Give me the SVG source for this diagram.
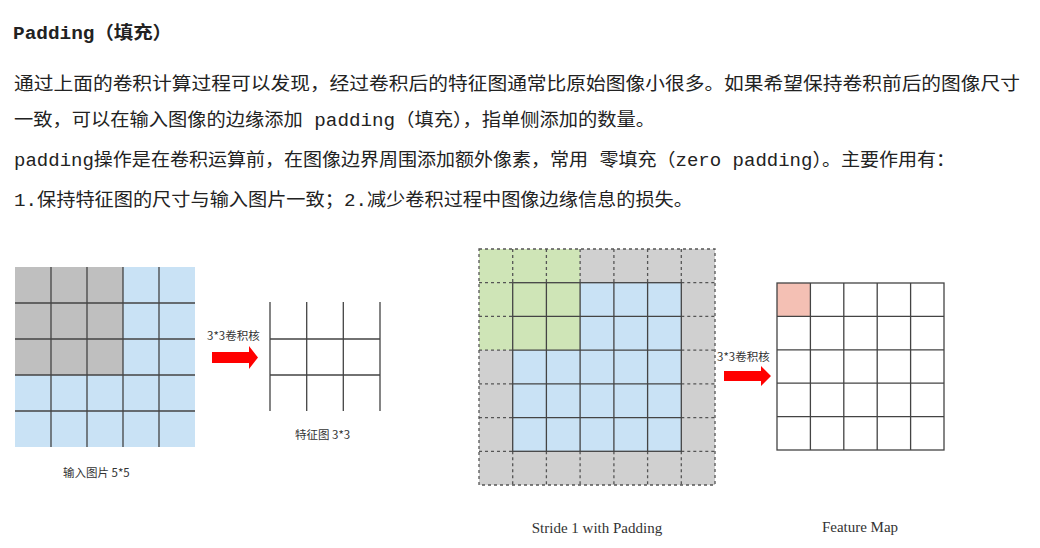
<svg xmlns="http://www.w3.org/2000/svg" width="1040" height="548" viewBox="0 0 1040 548">
<style>
.t{font-family:"Liberation Mono","Noto Sans CJK SC",monospace;font-size:18px;fill:#222}
.s{font-family:"Noto Sans CJK SC","Liberation Sans",sans-serif;font-size:11.5px;fill:#333}
.c{font-family:"Liberation Serif",serif;font-size:15px;fill:#333}
.g{stroke:#444;stroke-width:1.3;fill:none}
.d{stroke:#555;stroke-width:1.3;stroke-dasharray:3,3;fill:none}
</style>
<rect width="1040" height="548" fill="#fff"/>
<g id="text">
<text class="t" x="13" y="39" font-weight="bold" font-size="19" textLength="159" lengthAdjust="spacingAndGlyphs">Padding（填充）</text>
<text class="t" x="14" y="90" textLength="1006" lengthAdjust="spacingAndGlyphs">通过上面的卷积计算过程可以发现，经过卷积后的特征图通常比原始图像小很多。如果希望保持卷积前后的图像尺寸</text>
<text class="t" x="14" y="126" textLength="641" lengthAdjust="spacingAndGlyphs">一致，可以在输入图像的边缘添加 padding（填充），指单侧添加的数量。</text>
<text class="t" x="14" y="166" textLength="941" lengthAdjust="spacingAndGlyphs">padding操作是在卷积运算前，在图像边界周围添加额外像素，常用 零填充（zero padding）。主要作用有：</text>
<text class="t" x="14" y="206" textLength="679" lengthAdjust="spacingAndGlyphs">1.保持特征图的尺寸与输入图片一致；2.减少卷积过程中图像边缘信息的损失。</text>
</g>
<g id="input5x5">
<rect x="15" y="267" width="180" height="180" fill="#c9e2f5"/>
<rect x="15" y="267" width="108" height="108" fill="#bfbfbf"/>
<path class="g" d="M51 267V447M87 267V447M123 267V447M159 267V447M15 303H195M15 339H195M15 375H195M15 411H195"/>
<text class="s" x="63" y="477">输入图片 5*5</text>
</g>
<g id="feat3x3">
<path class="g" d="M270 302V411M306.7 302V411M343.3 302V411M380 302V411M270 339H380M270 375H380"/>
<text class="s" x="295" y="439">特征图 3*3</text>
</g>
<g id="padded">
<rect x="479" y="249" width="236" height="236" fill="#d0d0d0"/>
<rect x="479" y="249" width="101" height="101" fill="#cfe5b7"/>
<rect x="512.7" y="282.7" width="168.6" height="168.6" fill="#c9e2f5"/>
<rect x="512.7" y="282.7" width="67.4" height="67.4" fill="#cfe5b7"/>
<rect class="d" x="479" y="249" width="236" height="236"/>
<path class="d" d="M512.7 249V282.7M546.4 249V282.7M580.1 249V282.7M613.9 249V282.7M647.6 249V282.7M681.3 249V282.7M512.7 451.3V485M546.4 451.3V485M580.1 451.3V485M613.9 451.3V485M647.6 451.3V485M681.3 451.3V485M479 282.7H512.7M479 316.4H512.7M479 350.1H512.7M479 383.9H512.7M479 417.6H512.7M479 451.3H512.7M681.3 282.7H715M681.3 316.4H715M681.3 350.1H715M681.3 383.9H715M681.3 417.6H715M681.3 451.3H715"/>
<rect class="g" x="512.7" y="282.7" width="168.6" height="168.6"/>
<path class="g" d="M546.4 282.7V451.3M580.1 282.7V451.3M613.9 282.7V451.3M647.6 282.7V451.3M512.7 316.4H681.3M512.7 350.1H681.3M512.7 383.9H681.3M512.7 417.6H681.3"/>
<text class="c" x="597" y="533" text-anchor="middle">Stride 1 with Padding</text>
</g>
<g id="featmap">
<rect x="777" y="283" width="33.4" height="33.4" fill="#f4c0b4"/>
<rect class="g" x="777" y="283" width="167" height="167"/>
<path class="g" d="M810.4 283V450M843.8 283V450M877.2 283V450M910.6 283V450M777 316.4H944M777 349.8H944M777 383.2H944M777 416.6H944"/>
<text class="c" x="860" y="532" text-anchor="middle">Feature Map</text>
</g>
<g id="connectors">
<polygon points="212,352 249,352 249,346 258,357.5 249,369 249,363 212,363" fill="#f00"/>
<text class="s" x="207" y="340">3*3卷积核</text>
<polygon points="724,371 761,371 761,366 771,376 761,386 761,381 724,381" fill="#f00"/>
<text class="s" x="717" y="361">3*3卷积核</text>
</g>
</svg>
